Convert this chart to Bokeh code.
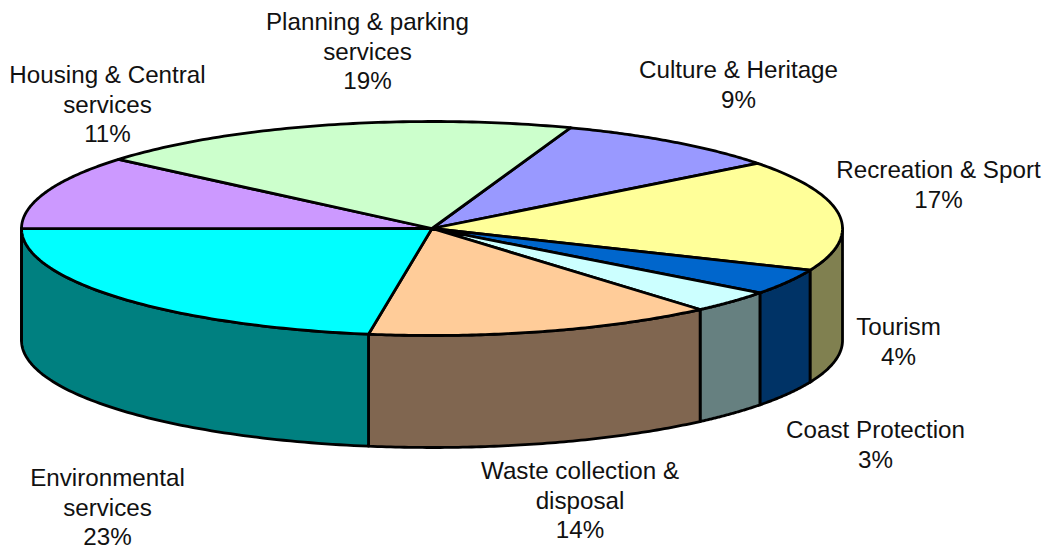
import numpy as np
from bokeh.plotting import figure
from bokeh.embed import file_html
from bokeh.resources import INLINE
from bokeh.core.properties import value

categories = ["Culture & Heritage", "Recreation & Sport", "Tourism", "Coast Protection",
              "Waste collection & disposal", "Environmental services",
              "Housing & Central services", "Planning & parking services"]
shares = [9.1, 16.8, 3.9, 3.4, 13.8, 22.5, 11.2, 19.3]
top_colors = ["#9999FF", "#FFFF99", "#0066CC", "#CCFFFF", "#FFCC99", "#00FFFF", "#CC99FF", "#CCFFCC"]
side_colors = ["#666699", "#808050", "#003366", "#668080", "#806650", "#008080", "#664C80", "#668066"]
label_lines = [["Culture & Heritage", "9%"], ["Recreation & Sport", "17%"], ["Tourism", "4%"],
               ["Coast Protection", "3%"], ["Waste collection &", "disposal", "14%"],
               ["Environmental", "services", "23%"], ["Housing & Central", "services", "11%"],
               ["Planning & parking", "services", "19%"]]
label_x = [738, 938, 898, 875, 579.5, 107, 107, 367]
label_y = [69, 169, 326, 429, 470, 477, 74, 21]

START = 70.3
CX, CY, RX, RY, DEPTH = 431.5, 228, 410.5, 107, 112

p = figure(width=1043, height=550, x_range=(0, 1043), y_range=(550, 0),
           toolbar_location=None, output_backend="svg", min_border=0,
           outline_line_color=None, background_fill_color="white")
p.axis.visible = False
p.grid.visible = False

def rim(a0, a1, n=80):
    t = np.radians(np.linspace(a0, a1, n))
    return CX + RX * np.cos(t), CY - RY * np.sin(t)

edges = START - np.cumsum([0] + shares) * 360 / sum(shares)

# side walls
for i in range(len(shares)):
    hi, lo = edges[i], edges[i + 1]
    a0, a1 = min(hi, 0), max(lo, -180)
    if a0 <= a1:
        continue
    x, y = rim(a0, a1)
    xs = np.concatenate([x, x[::-1]])
    ys = np.concatenate([y, y[::-1] + DEPTH])
    p.patch(xs, ys, fill_color=side_colors[i], line_color="black", line_width=2.8, line_join="round")

# top slices
for i in range(len(shares)):
    x, y = rim(edges[i], edges[i + 1])
    xs = np.concatenate([[CX], x])
    ys = np.concatenate([[CY], y])
    p.patch(xs, ys, fill_color=top_colors[i], line_color="black", line_width=2.8, line_join="round")

# labels
LINE = 29.7
for lines, lx, ly in zip(label_lines, label_x, label_y):
    for j, s in enumerate(lines):
        p.text([lx], [ly + j * LINE], text=[s], text_align="center", text_baseline="middle",
               text_font=value("Liberation Sans"), text_font_size="24.2px", text_color="#111111")

open("out.html", "w").write(file_html(p, INLINE))
